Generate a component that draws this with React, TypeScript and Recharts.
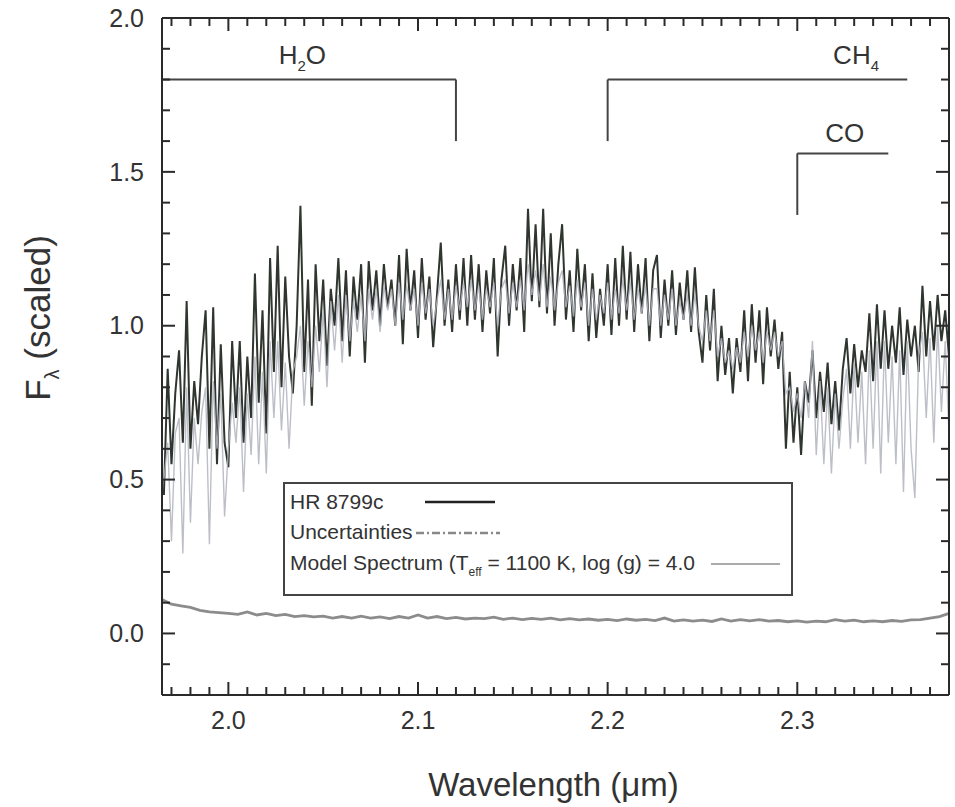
import React from "react";
import {
  LineChart,
  Line,
  XAxis,
  YAxis,
  ReferenceLine,
  ReferenceDot,
  Legend,
} from "recharts";

// spectrum sampled every 0.002 um starting at 1.966 um
const specStart = 1.966;
const specStep = 0.002;

const hr8799c = [
  0.45, 0.86, 0.55, 0.78, 0.92, 0.62, 1.08, 0.6, 0.82, 0.68,
  0.9, 1.05, 0.6, 1.06, 0.55, 0.94, 0.62, 0.54, 0.95, 0.7,
  0.95, 0.62, 0.9, 0.7, 1.17, 0.75, 1.05, 0.65, 1.22, 0.85,
  1.26, 0.8, 1.16, 0.9, 0.78, 1.0, 1.39, 0.85, 1.15, 0.74,
  1.2, 0.95, 1.15, 0.87, 1.12, 1.0, 1.22, 0.95, 1.18, 0.9,
  1.16, 1.02, 1.2, 0.88, 1.21, 1.05, 1.18, 1.0, 1.2, 1.06,
  1.15, 1.0, 1.23, 0.94, 1.25, 1.05, 1.18, 0.96, 1.22, 1.02,
  1.16, 0.93, 1.1, 1.27, 1.0, 1.15, 0.98, 1.2, 1.02, 1.22,
  1.0, 1.23, 1.02, 1.2, 0.98, 1.18, 1.04, 1.22, 0.9, 1.15,
  1.26, 1.0, 1.2, 1.05, 1.22, 0.98, 1.38, 1.08, 1.33, 1.06,
  1.38, 1.04, 1.3, 1.0, 1.2, 1.33, 1.02, 1.18, 0.98, 1.25,
  1.05, 1.2, 0.95, 1.17, 0.96, 1.12, 1.0, 1.2, 0.97, 1.22,
  1.0, 1.26, 1.02, 1.24, 0.98, 1.2, 1.04, 1.22, 0.95, 1.18,
  1.23, 0.96, 1.15, 1.0, 1.18, 0.97, 1.14, 1.02, 1.18, 0.98,
  1.19, 0.98, 0.88, 1.1, 0.92, 1.12, 0.82, 1.0, 0.84, 0.96,
  0.78, 0.96, 0.85, 1.05, 0.82, 1.07, 0.88, 1.05, 0.81, 1.06,
  0.9, 1.02, 0.86, 0.98, 0.6, 0.85, 0.62, 0.8, 0.58, 0.82,
  0.75, 0.92, 0.7, 0.85, 0.72, 0.88, 0.68, 0.82, 0.66, 0.86,
  0.96, 0.78, 0.94, 0.8, 0.92, 0.85, 1.04, 0.82, 1.07, 0.86,
  1.05, 0.86, 1.0, 0.88, 1.06, 0.84, 1.02, 0.9, 1.0, 0.85,
  1.13, 0.9, 1.08, 0.92, 1.1, 0.95, 1.05, 0.9,
];

const modelSpectrum = [
  0.5, 0.62, 0.3, 0.65, 0.7, 0.26, 0.8, 0.36, 0.7, 0.55,
  0.72, 0.8, 0.29, 0.82, 0.6, 0.78, 0.38, 0.6, 0.75, 0.62,
  0.8, 0.46, 0.78, 0.58, 0.9, 0.55, 0.85, 0.52, 0.95, 0.7,
  0.95, 0.66, 0.88, 0.6, 0.85, 0.9, 1.0, 0.74, 0.95, 0.8,
  1.0, 0.85, 1.05, 0.8, 1.08, 0.92, 1.1, 0.88, 1.1, 0.95,
  1.08, 0.98, 1.1, 0.95, 1.12, 1.02, 1.12, 0.98, 1.13, 1.05,
  1.12, 1.0, 1.14, 1.02, 1.13, 1.05, 1.12, 1.0, 1.14, 1.04,
  1.12, 1.0, 1.08, 1.15, 1.02, 1.12, 1.02, 1.13, 1.05, 1.14,
  1.06, 1.15, 1.05, 1.13, 1.02, 1.12, 1.06, 1.14, 1.0, 1.12,
  1.15, 1.04, 1.14, 1.06, 1.15, 1.05, 1.2, 1.1, 1.18, 1.08,
  1.2, 1.06, 1.16, 1.05, 1.14, 1.18, 1.06, 1.13, 1.03, 1.15,
  1.06, 1.14, 1.0, 1.12, 1.02, 1.1, 1.04, 1.14, 1.02, 1.12,
  1.04, 1.15, 1.05, 1.14, 1.02, 1.12, 1.04, 1.13, 1.0, 1.12,
  1.12, 1.0, 1.1, 1.02, 1.12, 1.0, 1.08, 1.02, 1.1, 1.0,
  1.1, 1.0, 0.95, 1.05, 0.95, 1.05, 0.9, 0.96, 0.88, 0.92,
  0.86, 0.93, 0.88, 0.98, 0.9, 1.0, 0.92, 0.98, 0.88, 0.98,
  0.92, 0.98, 0.9, 0.95, 0.78, 0.8, 0.72, 0.78, 0.7, 0.82,
  0.7, 0.95, 0.58, 0.82, 0.55, 0.8, 0.52, 0.78, 0.6, 0.76,
  0.86, 0.6, 0.88, 0.62, 0.85, 0.55, 0.92, 0.6, 0.95, 0.52,
  0.95, 0.62, 0.9, 0.55, 0.92, 0.46, 0.95, 0.6, 0.44, 0.9,
  0.98, 0.7, 0.96, 0.62, 1.0, 0.72, 0.95, 0.65,
];

// uncertainties sampled every 0.005 um starting at 1.965 um
const uncStart = 1.965;
const uncStep = 0.005;
const uncertainties = [
  0.11, 0.095, 0.09, 0.085, 0.075, 0.07, 0.068, 0.065, 0.062, 0.07,
  0.06, 0.065, 0.058, 0.062, 0.055, 0.058, 0.054, 0.056, 0.05, 0.055,
  0.05, 0.056, 0.05, 0.054, 0.048, 0.055, 0.05, 0.06, 0.05, 0.055,
  0.048, 0.052, 0.047, 0.05, 0.048, 0.053, 0.046, 0.05, 0.045, 0.049,
  0.046, 0.05, 0.044, 0.048, 0.044, 0.047, 0.043, 0.046, 0.042, 0.047,
  0.043, 0.046, 0.042, 0.05, 0.04, 0.044, 0.04, 0.043, 0.039, 0.047,
  0.04, 0.045, 0.041, 0.045, 0.04, 0.042, 0.038, 0.041, 0.037, 0.04,
  0.038, 0.045, 0.04, 0.043, 0.038, 0.041, 0.038, 0.042, 0.039, 0.044,
  0.045, 0.05, 0.055, 0.065,
];

const xDomain = [1.965, 2.38];
const yDomain = [-0.2, 2.0];

const xTicks = [
  1.97, 1.98, 1.99, 2.0, 2.01, 2.02, 2.03, 2.04, 2.05, 2.06, 2.07, 2.08,
  2.09, 2.1, 2.11, 2.12, 2.13, 2.14, 2.15, 2.16, 2.17, 2.18, 2.19, 2.2,
  2.21, 2.22, 2.23, 2.24, 2.25, 2.26, 2.27, 2.28, 2.29, 2.3, 2.31, 2.32,
  2.33, 2.34, 2.35, 2.36, 2.37,
];
const xMajor = [2.0, 2.1, 2.2, 2.3];
const xMajorLabels = ["2.0", "2.1", "2.2", "2.3"];

const yTicks = [
  -0.1, 0, 0.1, 0.2, 0.3, 0.4, 0.5, 0.6, 0.7, 0.8, 0.9, 1.0, 1.1, 1.2,
  1.3, 1.4, 1.5, 1.6, 1.7, 1.8, 1.9, 2.0,
];
const yMajor = [0, 0.5, 1.0, 1.5, 2.0];
const yMajorLabels = ["0.0", "0.5", "1.0", "1.5", "2.0"];

// absorption band brackets: [x1, y1, x2, y2]
const bandBrackets = [
  [1.965, 1.8, 2.12, 1.8],
  [2.12, 1.8, 2.12, 1.6],
  [2.2, 1.6, 2.2, 1.8],
  [2.2, 1.8, 2.358, 1.8],
  [2.3, 1.36, 2.3, 1.56],
  [2.3, 1.56, 2.348, 1.56],
];
const bandNames = [
  { x: 2.039, y: 1.88, main: "H", sub: "2", tail: "O" },
  { x: 2.331, y: 1.88, main: "CH", sub: "4", tail: "" },
  { x: 2.325, y: 1.627, main: "CO", sub: "", tail: "" },
];

const specData = hr8799c.map((v, i) => ({
  x: +(specStart + i * specStep).toFixed(3),
  y: v,
}));
const modelData = modelSpectrum.map((v, i) => ({
  x: +(specStart + i * specStep).toFixed(3),
  y: v,
}));
const uncData = uncertainties.map((v, i) => ({
  x: +(uncStart + i * uncStep).toFixed(3),
  y: v,
}));

const FONT = '"Liberation Sans", Arial, Helvetica, sans-serif';
const INK = "#333";
const FRAME = "#2a2a2a";
const PLOT_W = 787;
const PLOT_H = 677;

function XTick(props: any) {
  const { x, y, payload } = props;
  const idx = xMajor.findIndex((m) => Math.abs(m - payload.value) < 1e-6);
  const len = idx >= 0 ? 13 : 8;
  return (
    <g>
      <line x1={x} x2={x} y1={y} y2={y - len} stroke={FRAME} strokeWidth={2} />
      <line x1={x} x2={x} y1={y - PLOT_H} y2={y - PLOT_H + len} stroke={FRAME} strokeWidth={2} />
      {idx >= 0 && (
        <text x={x} y={y + 34} textAnchor="middle" fontSize={25} fill={INK} fontFamily={FONT}>
          {xMajorLabels[idx]}
        </text>
      )}
    </g>
  );
}

function YTick(props: any) {
  const { x, y, payload } = props;
  const idx = yMajor.findIndex((m) => Math.abs(m - payload.value) < 1e-6);
  const len = idx >= 0 ? 13 : 8;
  return (
    <g>
      <line x1={x} x2={x + len} y1={y} y2={y} stroke={FRAME} strokeWidth={2} />
      <line x1={x + PLOT_W} x2={x + PLOT_W - len} y1={y} y2={y} stroke={FRAME} strokeWidth={2} />
      {idx >= 0 && (
        <text x={x - 18} y={y} dy="0.35em" textAnchor="end" fontSize={25} fill={INK} fontFamily={FONT}>
          {yMajorLabels[idx]}
        </text>
      )}
    </g>
  );
}

function BandName(props: any) {
  const { cx, cy, name } = props;
  return (
    <text x={cx} y={cy} dy="0.35em" textAnchor="middle" fontSize={26} fill={INK} fontFamily={FONT}>
      {name.main}
      {name.sub && (
        <tspan fontSize={15} dy={7}>
          {name.sub}
        </tspan>
      )}
      {name.tail && <tspan dy={name.sub ? -7 : 0}>{name.tail}</tspan>}
    </text>
  );
}

function LegendBox() {
  return (
    <svg width={510} height={114} style={{ display: "block" }}>
      <rect x={1} y={1} width={508} height={112} fill="#fff" stroke="#444" strokeWidth={2} />
      <g fontFamily={FONT} fontSize={21} fill={INK}>
        <text x={7} y={20} dy="0.35em">HR 8799c</text>
        <text x={7} y={50} dy="0.35em">Uncertainties</text>
        <text x={7} y={81} dy="0.35em">
          Model Spectrum (T
          <tspan fontSize={12} dy={6}>eff</tspan>
          <tspan dy={-6}> = 1100 K, log (g) = 4.0</tspan>
        </text>
      </g>
      <line x1={142} x2={212} y1={20} y2={20} stroke="#222" strokeWidth={2.5} />
      <line x1={133} x2={217} y1={51} y2={51} stroke="#888" strokeWidth={2.5} strokeDasharray="8 3 2 3" />
      <line x1={428} x2={497} y1={82} y2={82} stroke="#aaa" strokeWidth={2} />
    </svg>
  );
}

export default function App() {
  return (
    <div style={{ position: "absolute", left: 0, top: 0 }}>
      <LineChart
        width={955}
        height={807}
        margin={{ top: 18, right: 6, bottom: 82, left: 102 }}
      >
        <XAxis
          dataKey="x"
          type="number"
          domain={xDomain}
          ticks={xTicks}
          interval={0}
          height={30}
          axisLine={{ stroke: FRAME, strokeWidth: 2 }}
          tickLine={false}
          tickSize={0}
          tickMargin={0}
          tick={<XTick />}
          label={{
            content: (p: any) => (
              <text
                x={p.viewBox.x + p.viewBox.width / 2 - 2}
                y={p.viewBox.y + 101}
                textAnchor="middle"
                fontSize={33}
                fill={INK}
                fontFamily={FONT}
              >
                Wavelength (μm)
              </text>
            ),
          }}
        />
        <YAxis
          type="number"
          domain={yDomain}
          ticks={yTicks}
          interval={0}
          width={60}
          axisLine={{ stroke: FRAME, strokeWidth: 2 }}
          tickLine={false}
          tickSize={0}
          tickMargin={0}
          tick={<YTick />}
          label={{
            content: (p: any) => {
              const cx = 38;
              const cy = p.viewBox.y + 300;
              return (
                <text
                  x={cx}
                  y={cy}
                  transform={`rotate(-90 ${cx} ${cy})`}
                  textAnchor="middle"
                  dy="0.35em"
                  fontSize={35}
                  fill={INK}
                  fontFamily={FONT}
                >
                  F
                  <tspan fontSize={20} dy={9}>λ</tspan>
                  <tspan dy={-9}> (scaled)</tspan>
                </text>
              );
            },
          }}
        />
        <Line
          data={specData}
          dataKey="y"
          stroke="#2f362f"
          strokeWidth={2}
          dot={false}
          isAnimationActive={false}
          legendType="none"
        />
        <Line
          data={modelData}
          dataKey="y"
          stroke="#b2b4be"
          strokeOpacity={0.85}
          strokeWidth={1.4}
          dot={false}
          isAnimationActive={false}
          legendType="none"
        />
        <Line
          data={uncData}
          dataKey="y"
          stroke="#8c8c8c"
          strokeWidth={2.8}
          dot={false}
          isAnimationActive={false}
          legendType="none"
        />
        <ReferenceLine y={yDomain[1]} stroke={FRAME} strokeWidth={2} ifOverflow="visible" />
        <ReferenceLine x={xDomain[1]} stroke={FRAME} strokeWidth={2} ifOverflow="visible" />
        {bandBrackets.map((b, i) => (
          <ReferenceLine
            key={i}
            segment={[
              { x: b[0], y: b[1] },
              { x: b[2], y: b[3] },
            ]}
            stroke="#444"
            strokeWidth={2}
            ifOverflow="visible"
          />
        ))}
        {bandNames.map((n, i) => (
          <ReferenceDot
            key={"n" + i}
            x={n.x}
            y={n.y}
            r={1}
            ifOverflow="visible"
            shape={(p: any) => <BandName cx={p.cx} cy={p.cy} name={n} />}
          />
        ))}
        <Legend
          layout="horizontal"
          verticalAlign="middle"
          align="center"
          wrapperStyle={{ left: 283, top: 482, width: 510, height: 114 }}
          content={() => <LegendBox />}
        />
      </LineChart>
    </div>
  );
}
